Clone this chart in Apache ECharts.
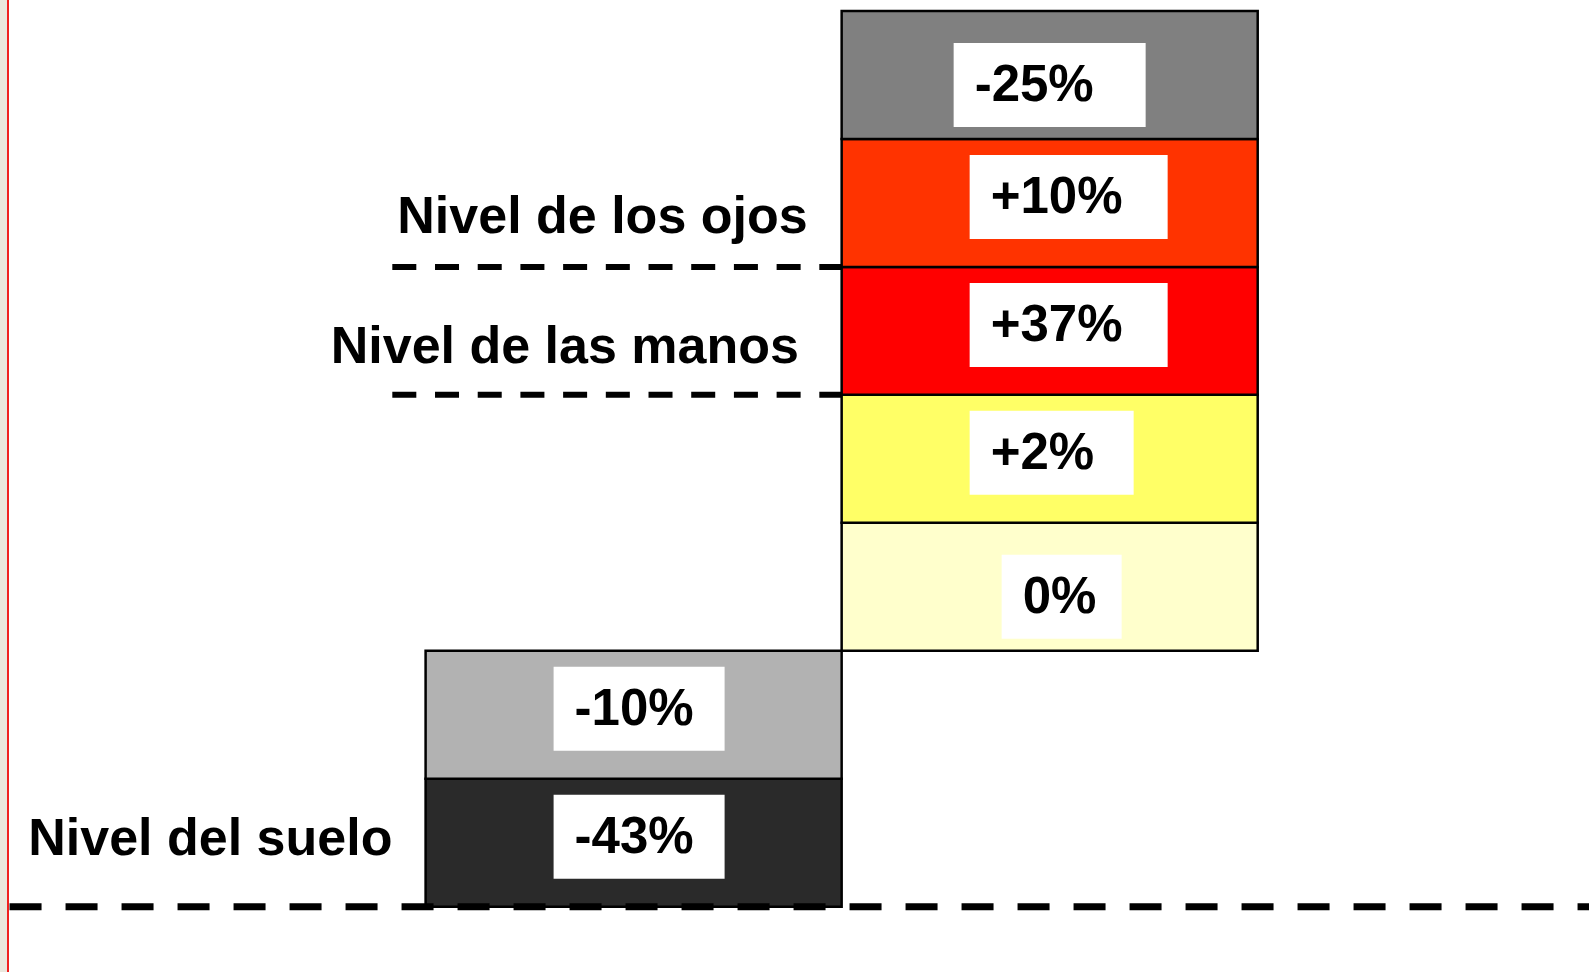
<!DOCTYPE html>
<html>
<head>
<meta charset="utf-8">
<script src="https://cdn.jsdelivr.net/npm/echarts@6/dist/echarts.min.js"></script>
<style>
  html, body { margin: 0; padding: 0; background: #fff; }
  #main { width: 1589px; height: 972px; }
</style>
</head>
<body>
<div id="main"></div>
<script>
// celdas (de abajo hacia arriba)
var cellLabels = ['-43%', '-10%', '0%', '+2%', '+37%', '+10%', '-25%'];
var cellColumn = [0, 0, 1, 1, 1, 1, 1];
var cellLevel = [0, 1, 2, 3, 4, 5, 6];

// niveles marcados con linea discontinua
var levelNames = ['Nivel del suelo', 'Nivel de las manos', 'Nivel de los ojos'];
var levelValues = [0, 4, 5];

// estilos
var cellColors = ['#2a2a2a', '#b2b2b2', '#ffffcc', '#ffff66', '#ff0000', '#ff3300', '#808080'];
var boxDx = [128, 128, 160, 128, 128, 128, 112];
var boxDy = [16, 16, 32, 16, 16, 16, 32];
var boxW = [171, 171, 120, 164, 198, 198, 192];
var lineFrom = [-1, -0.08, -0.08];
var lineTo = [3, 1, 1];
var lineW = [7, 6, 6];
var lineDash = [[32, 24], [24, 18.7], [24, 18.7]];
var nameX = [-0.955, -0.228, -0.068];
var nameDy = [-66, -46, -48];

var FONT = '"Liberation Sans", Arial, sans-serif';

var chart = echarts.init(document.getElementById('main'));

function renderCell(params, api) {
  var i = params.dataIndex;
  var col = api.value(0), lvl = api.value(1);
  var tl = api.coord([col, lvl + 1]);
  var br = api.coord([col + 1, lvl]);
  var bx = tl[0] + boxDx[i], by = tl[1] + boxDy[i];
  return {
    type: 'group',
    children: [
      { type: 'rect', shape: { x: tl[0], y: tl[1], width: br[0] - tl[0], height: br[1] - tl[1] },
        style: { fill: cellColors[i], stroke: '#000', lineWidth: 2.5 } },
      { type: 'rect', shape: { x: bx, y: by, width: boxW[i], height: 84 },
        style: { fill: '#fff' } },
      { type: 'text', x: bx + 21, y: by + 44,
        style: { text: cellLabels[i], fill: '#000', font: 'bold 51px ' + FONT,
                 textAlign: 'left', textVerticalAlign: 'middle' } }
    ]
  };
}

function renderLevel(params, api) {
  var i = params.dataIndex;
  var lvl = api.value(0);
  var p0 = api.coord([lineFrom[i], lvl]);
  var p1 = api.coord([lineTo[i], lvl]);
  return {
    type: 'group',
    children: [
      { type: 'line', shape: { x1: p0[0], y1: p0[1], x2: p1[0], y2: p1[1] },
        style: { stroke: '#000', lineWidth: lineW[i], lineDash: lineDash[i] } },
      { type: 'text', x: api.coord([nameX[i], lvl])[0], y: p0[1] + nameDy[i],
        style: { text: levelNames[i], fill: '#000', font: 'bold 52px ' + FONT,
                 textAlign: 'left', textVerticalAlign: 'middle' } }
    ]
  };
}

var option = {
  animation: false,
  grid: { left: 425.6, right: 331.3, top: 11, bottom: 65.3, containLabel: false },
  xAxis: { type: 'value', min: 0, max: 2, show: false },
  yAxis: { type: 'value', min: 0, max: 7, show: false },
  graphic: [
    { type: 'rect', left: 0, top: 0, shape: { width: 7, height: 972 }, style: { fill: '#ebe7dd' } },
    { type: 'rect', left: 7, top: 0, shape: { width: 2, height: 972 }, style: { fill: '#f02020' } }
  ],
  series: [
    {
      type: 'custom',
      renderItem: renderCell,
      data: cellColumn.map(function (c, i) { return [c, cellLevel[i]]; }),
      z: 2
    },
    {
      type: 'custom',
      renderItem: renderLevel,
      data: levelValues.map(function (v) { return [v]; }),
      z: 3
    }
  ]
};

chart.setOption(option);
</script>
</body>
</html>
